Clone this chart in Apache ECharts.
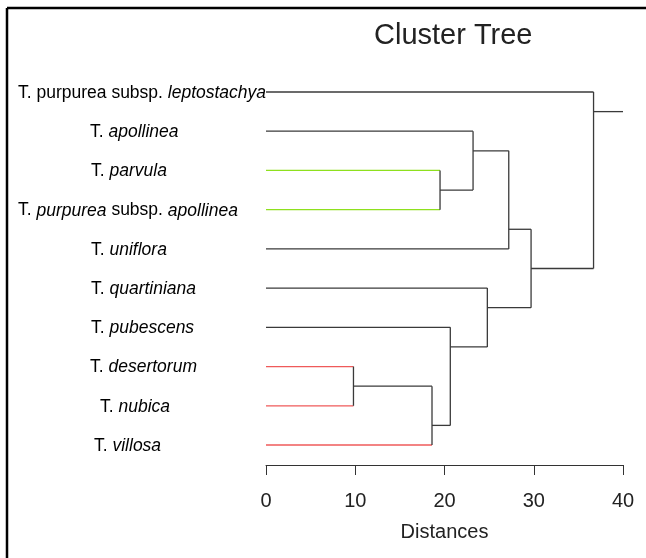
<!DOCTYPE html>
<html>
<head>
<meta charset="utf-8">
<script src="https://cdn.jsdelivr.net/npm/echarts@6/dist/echarts.min.js"></script>
<style>
  html, body { margin: 0; padding: 0; background: #fff; }
  #app { width: 646px; height: 558px; }
</style>
</head>
<body>
<div id="app"></div>
<script>
// leaves, top to bottom
const leafGenus = ['T.', 'T.', 'T.', 'T.', 'T.', 'T.', 'T.', 'T.', 'T.', 'T.']
const leafPlain = ['purpurea subsp. ', '', '', '', '', '', '', '', '', '']
const leafItalic = ['leptostachya', 'apollinea', 'parvula', 'purpurea', 'uniflora', 'quartiniana', 'pubescens', 'desertorum', 'nubica', 'villosa']
const leafTail = ['', '', '', ' subsp. ', '', '', '', '', '', '']
const leafTailItalic = ['', '', '', 'apollinea', '', '', '', '', '', '']
// distance where each leaf joins its first cluster
const leafJoin = [36.7, 23.2, 19.5, 19.5, 27.2, 24.8, 20.65, 9.8, 9.8, 18.6]
const leafGroup = ['k', 'k', 'g', 'g', 'k', 'k', 'k', 'r', 'r', 'r']

// merges: height, vertical from/to (row), outgoing row, parent height
const mergeH = [19.5, 23.2, 27.2, 9.8, 18.6, 20.65, 24.8, 29.7, 36.7]
const mergeLo = [2, 1, 1.5, 7, 7.5, 6, 5, 3.5, 0]
const mergeHi = [3, 2.5, 4, 8, 9, 8.5, 6.5, 5.5, 4.5]
const mergeOut = [2.5, 1.5, 3.5, 7.5, 8.5, 6.5, 5.5, 4.5, 0.5]
const mergeParent = [23.2, 27.2, 29.7, 18.6, 20.65, 24.8, 29.7, 36.7, 40]

const xTicks = [0, 10, 20, 30, 40]

// label left edge in px (layout only)
const labelLeft = [18, 90, 91, 18, 91, 91, 91, 90, 100, 94]
const groupColor = { k: '#3a3a3a', g: '#8ee01e', r: '#ef5a5a' }

const segs = []
leafJoin.forEach((h, i) => segs.push([0, i, h, i, groupColor[leafGroup[i]]]))
mergeH.forEach((h, j) => {
  segs.push([h, mergeLo[j], h, mergeHi[j], groupColor.k])
  segs.push([h, mergeOut[j], mergeParent[j], mergeOut[j], groupColor.k])
})

const app = document.getElementById('app')
const chart = echarts.init(app)

chart.setOption({
  animation: false,
  title: {
    text: 'Cluster Tree',
    left: 369,
    top: 16,
    textStyle: {
      fontFamily: 'Liberation Sans',
      fontSize: 29,
      fontWeight: 400,
      color: '#222'
    }
  },
  grid: {
    left: 266,
    right: 23,
    top: 92,
    bottom: 113
  },
  xAxis: {
    type: 'value',
    position: 'bottom',
    min: 0,
    max: 40,
    interval: 10,
    offset: 20,
    splitLine: { show: false },
    axisLine: { show: true, onZero: false, lineStyle: { color: '#333', width: 1 } },
    axisTick: { show: true, length: 10, lineStyle: { color: '#333' } },
    axisLabel: {
      margin: 26,
      fontFamily: 'Liberation Sans',
      fontSize: 20,
      color: '#222',
      formatter(v) {
        return xTicks.includes(v) ? String(v) : ''
      }
    },
    name: 'Distances',
    nameLocation: 'middle',
    nameGap: 57,
    nameTextStyle: {
      fontFamily: 'Liberation Sans',
      fontSize: 20,
      color: '#222'
    }
  },
  yAxis: {
    type: 'value',
    min: 0,
    max: 9,
    inverse: true,
    show: false
  },
  series: [
    {
      type: 'custom',
      clip: false,
      data: segs,
      renderItem(params, api) {
        const s = segs[params.dataIndex]
        const p1 = api.coord([s[0], s[1]])
        const p2 = api.coord([s[2], s[3]])
        return {
          type: 'line',
          shape: { x1: p1[0], y1: p1[1], x2: p2[0], y2: p2[1] },
          style: { stroke: s[4], lineWidth: 1.3 }
        }
      }
    },
    {
      type: 'custom',
      clip: false,
      data: leafItalic.map((n, i) => [0, i]),
      renderItem(params, api) {
        const i = params.dataIndex
        const p = api.coord([0, i])
        let txt = '{n|' + leafGenus[i] + ' }'
        if (leafPlain[i]) txt += '{n|' + leafPlain[i] + '}'
        txt += '{i|' + leafItalic[i] + '}'
        if (leafTail[i]) txt += '{n|' + leafTail[i] + '}'
        if (leafTailItalic[i]) txt += '{i|' + leafTailItalic[i] + '}'
        return {
          type: 'text',
          style: {
            x: labelLeft[i],
            y: p[1] + 1,
            text: txt,
            verticalAlign: 'middle',
            align: 'left',
            rich: {
              n: { fontFamily: 'Liberation Sans', fontSize: 17.5, color: '#4a4a4a' },
              i: { fontFamily: 'Liberation Sans', fontSize: 17.5, fontStyle: 'italic', color: '#5a5a5a' }
            }
          }
        }
      }
    }
  ],
  graphic: [
    {
      type: 'line',
      shape: { x1: 7, y1: 8, x2: 646, y2: 8 },
      style: { stroke: '#000', lineWidth: 2.5 }
    },
    {
      type: 'line',
      shape: { x1: 7, y1: 8, x2: 7, y2: 558 },
      style: { stroke: '#000', lineWidth: 2.5 }
    }
  ]
})
</script>
</body>
</html>
